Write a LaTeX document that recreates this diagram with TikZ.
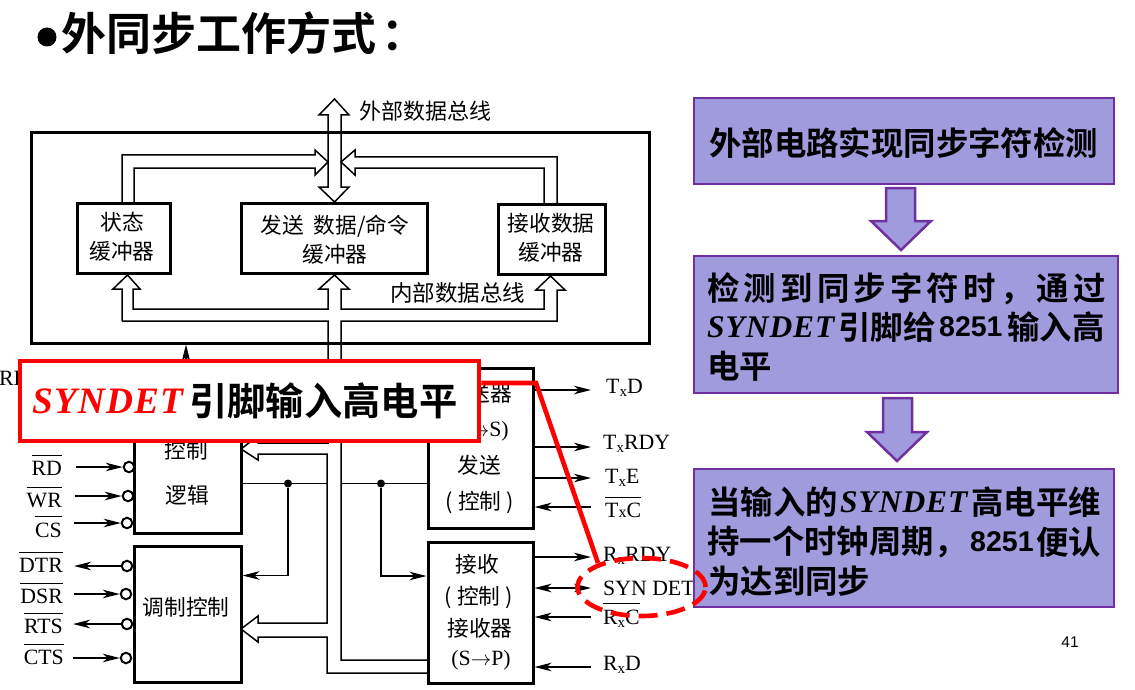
\documentclass[tikz,border=0pt]{standalone}
\usepackage{fontspec}
\usetikzlibrary{arrows.meta,shapes.geometric}
\setmainfont{Liberation Serif}
\newfontfamily\cjk[BoldFont={Noto Sans CJK SC Bold}]{Noto Sans CJK SC}
\newfontfamily\cjkwide[LetterSpace=13,BoldFont={Noto Sans CJK SC Bold}]{Noto Sans CJK SC}
\newfontfamily\synfont[LetterSpace=3]{Liberation Serif}
\newfontfamily\sansf{Liberation Sans}
\newcommand\ovl[1]{\leavevmode\vbox{\hrule height 0.9pt \kern 5.5pt \hbox{#1}}}
\newcommand\sbx{\raisebox{-3.5pt}{\fontsize{15}{15}\selectfont x}}
\newcommand\lowx{{\fontsize{16}{16}\selectfont x}}
\definecolor{boxfill}{HTML}{9F9BDD}
\definecolor{boxline}{HTML}{7030A0}
\definecolor{redc}{HTML}{FF0000}
\tikzset{
  pbox/.style={draw=black,line width=3pt,fill=none,inner sep=0pt},
  bus/.style={draw=black,line width=1.5pt,line join=miter},
  sig/.style={draw=black,line width=1.5pt,-{Stealth[length=17pt,width=8.5pt,inset=5pt]}},
  dsig/.style={draw=black,line width=1.5pt,{Stealth[length=17pt,width=8.5pt,inset=5pt]}-{Stealth[length=17pt,width=8.5pt,inset=5pt]}},
  wire/.style={draw=black,line width=1.4pt},
  pin/.style={circle,draw=black,line width=2pt,fill=white,inner sep=0pt,minimum size=10.5pt},
  dot/.style={circle,fill=black,inner sep=0pt,minimum size=8pt},
  zh/.style={inner sep=0pt,font=\cjk\fontsize{21.7}{29}\selectfont,align=center},
  lt/.style={inner sep=0pt,font=\fontsize{21.8}{24}\selectfont},
  flow/.style={draw=boxline,line width=2.2pt,fill=boxfill,inner sep=0pt},
  fz/.style={inner sep=0pt,anchor=west,font=\cjk\bfseries\fontsize{32.4}{36}\selectfont},
  fsyn/.style={inner sep=0pt,anchor=west,font=\synfont\bfseries\itshape\fontsize{31.5}{36}\selectfont},
  fnum/.style={inner sep=0pt,anchor=west,font=\sansf\bfseries\fontsize{28.5}{36}\selectfont},
  flowarrow/.style={draw=boxline,line width=2.5pt,fill=boxfill,line join=miter},
}
\begin{document}
\begin{tikzpicture}[x=1pt,y=-1pt]
\useasboundingbox (0,0) rectangle (1135,690);
\fill[white] (0,0) rectangle (1135,690);

% title
\node[circle,fill=black,inner sep=0pt,minimum size=19pt] (bullet) at (47,37) {};
\node[inner sep=0pt,anchor=west,font=\cjk\bfseries\fontsize{45}{50}\selectfont] (title) at (61,33) {外同步工作方式\kern5pt：};

% outer box
\node[pbox,minimum width=618pt,minimum height=210pt] (outer) at (340,238) {};
\node[pbox,minimum width=93pt,minimum height=70pt] (status) at (123.5,238) {};
\node[pbox,minimum width=186pt,minimum height=70pt] (txbuf) at (334,238) {};
\node[pbox,minimum width=107pt,minimum height=70pt] (rxbuf) at (551.5,239) {};
\node[zh] (l1) at (122,236.5) {状态\\缓冲器};
\node[zh] (l2) at (335,240) {发送\ \ 数据/命令\\缓冲器};
\node[zh] (l3) at (551,238) {接收数据\\缓冲器};

% buses
\draw[bus] (122,203)--(122,155)--(315,155)--(315,150)--(328,162)--(315,175)--(315,168)--(134,168)--(134,203);
\draw[bus] (557,204)--(557,157)--(355,157)--(355,150)--(341,162)--(355,175)--(355,168)--(544,168)--(544,204);
\draw[bus] (328,187)--(319,187)--(334.5,202)--(349,187)--(341,187)--(341,115)--(349,115)--(334.5,99)--(319,115)--(328,115)--cycle;
\draw[bus] (122,321)--(122,289)--(113,289)--(127.5,275)--(140,289)--(133,289)--(133,309)--(328,309)--(328,289)--(319,289)--(334.5,275)--(349,289)--(341,289)--(341,309)--(544,309)--(544,290)--(536,290)--(550.5,276)--(565,290)--(557,290)--(557,321)--(341,321)--(341,660)--(427,660);
\draw[bus] (122,321)--(328,321)--(328,443)--(258,443)--(258,436)--(241,449)--(258,460)--(258,454)--(327,454)--(327,623)--(258,623)--(258,616)--(241,629)--(258,642)--(258,637)--(327,637)--(327,673)--(427,673);
\node[zh,anchor=west,font=\cjk\fontsize{22}{29}\selectfont] (extl) at (359,111) {外部数据总线};
\node[zh,anchor=west,font=\cjk\fontsize{22.5}{29}\selectfont] (intl) at (390,293) {内部数据总线};

% lower blocks
\node[pbox,minimum width=107pt,minimum height=165pt] (logic) at (187.5,450.5) {};
\node[pbox,minimum width=107pt,minimum height=136pt] (modem) at (187.5,614) {};
\node[pbox,minimum width=105pt,minimum height=160pt] (tx) at (480.5,448) {};
\node[pbox,minimum width=105pt,minimum height=141pt] (rx) at (480.5,612.5) {};

\node[zh] (t1) at (186,450) {控制};
\node[zh] (t2) at (187,495) {逻辑};
\node[zh] (t3) at (186,607) {调制控制};
\node[zh,anchor=east] (t4) at (512,393) {送器};
\node[lt] (t5) at (479,431) {(P$\rightarrow$S)};
\node[zh] (t6) at (479,465) {发送};
\node[zh] (t7) at (480,502) {(\kern5pt 控制\kern5pt )};
\node[zh] (t8) at (477,564) {接收};
\node[zh] (t9) at (479,597) {(\kern5pt 控制\kern5pt )};
\node[zh] (t10) at (480,628) {接收器};
\node[lt] (t11) at (481,660) {(S$\rightarrow$P)};

\draw[sig] (logic.north -| 186,368) -- (outer.south -| 186,343);

% junctions
\draw[wire] (241,483.5) -- (327,483.5);
\draw[wire] (341,483.5) -- (427,483.5);
\node[dot] (j1) at (288,483.5) {};
\node[dot] (j2) at (381,483.5) {};
\draw[sig] (j1) |- (modem.east |- 0,575.5);
\draw[sig] (j2) |- (rx.west |- 0,576);

% left pins
\foreach \nm/\yy/\xc/\xo in {rd/467/129/76, wr/496/128/75, cs/523/127/74, dsr/594/126/74, cts/658/126/73}{
  \node[pin] (p\nm) at (\xc,\yy) {};
  \coordinate (c\nm) at (\xo,\yy);
  \draw[sig] (c\nm) -- (p\nm);
}
\foreach \nm/\yy/\xc/\xo in {dtr/566/127/74, rts/624/127/73}{
  \node[pin] (p\nm) at (\xc,\yy) {};
  \coordinate (c\nm) at (\xo,\yy);
  \draw[sig] (p\nm) -- (c\nm);
}
\node[lt,anchor=east] (nrd) at (62,465) {\ovl{RD}};
\node[lt,anchor=east] (nwr) at (62,497.5) {\ovl{WR}};
\node[lt,anchor=east] (ncs) at (62,527) {\ovl{CS}};
\node[lt,anchor=east] (ndtr) at (63,562) {\ovl{DTR}};
\node[lt,anchor=east] (ndsr) at (63,593.5) {\ovl{DSR}};
\node[lt,anchor=east] (nrts) at (63,623.5) {\ovl{RTS}};
\node[lt,anchor=east] (ncts) at (64,654.5) {\ovl{CTS}};
\node[lt,anchor=west] (nre) at (-1,378) {RE};

% right pins
\coordinate (ptxd) at (591,390);
\coordinate (ptxr) at (591,447);
\coordinate (ptxe) at (591,478);
\coordinate (ptxc) at (591,507);
\coordinate (prxr) at (591,557);
\coordinate (psyn) at (591,588);
\coordinate (prxc) at (591,617);
\coordinate (prxd) at (591,667);
\draw[sig] (tx.east |- ptxd) -- (ptxd);
\draw[sig] (tx.east |- ptxr) -- (ptxr);
\draw[sig] (tx.east |- ptxe) -- (ptxe);
\draw[sig] (ptxc) -- (tx.east |- ptxc);
\draw[sig] (rx.east |- prxr) -- (prxr);
\draw[dsig] (rx.east |- psyn) -- (psyn);
\draw[sig] (prxc) -- (rx.east |- prxc);
\draw[sig] (prxd) -- (rx.east |- prxd);
\node[lt,anchor=west] (ntxd) at (606,388) {T\sbx D};
\node[lt,anchor=west] (ntxr) at (603,444) {T\sbx RDY};
\node[lt,anchor=west] (ntxe) at (605,478) {T\sbx E};
\node[lt,anchor=west] (ntxc) at (605,507.5) {\ovl{T\lowx C}};
\node[lt,anchor=west] (nrxr) at (603,556) {R\sbx RDY};
\node[lt,anchor=west] (nsyn) at (603,588) {SYN DET};
\node[lt,anchor=west] (nrxc) at (603,615.5) {\ovl{R\sbx C}};
\node[lt,anchor=west] (nrxd) at (603,665) {R\sbx D};

% right column
\node[flow,minimum width=420pt,minimum height=86pt] (f1) at (904,141) {};
\node[flow,minimum width=424pt,minimum height=137pt] (f2) at (906,324.5) {};
\node[flow,minimum width=420pt,minimum height=138pt] (f3) at (904,538) {};
\node[fz] (f1t) at (709,143) {外部电路实现同步字符检测};
\node[inner sep=0pt,anchor=west,font=\cjkwide\bfseries\fontsize{32.4}{36}\selectfont] (f2a) at (707,289) {检测到同步字符时，通过};
\node[fsyn] (f2b) at (707,327) {SYNDET};
\node[fz] (f2c) at (838,327) {引脚给};
\node[fnum] (f2d) at (939,327) {8251};
\node[fz] (f2e) at (1007,327) {输入高};
\node[fz] (f2f) at (707,366) {电平};
\node[fz] (f3a) at (708,502) {当输入的};
\node[fsyn] (f3b) at (840,502) {SYNDET};
\node[fz] (f3c) at (971,502) {高电平维};
\node[fz] (f3d) at (707,542) {持一个时钟周期，};
\node[fnum] (f3e) at (970,542) {8251};
\node[fz] (f3f) at (1036,542) {便认};
\node[fz] (f3g) at (708,581) {为达到同步};

\draw[flowarrow] (886,188)--(915,188)--(915,221)--(931,221)--(901,250)--(871,221)--(886,221)--cycle;
\draw[flowarrow] (883,398)--(912,398)--(912,432)--(927,432)--(897,461)--(867,432)--(883,432)--cycle;

\node[inner sep=0pt,font=\sansf\fontsize{15.5}{18}\selectfont] (pageno) at (1070,642) {41};

% red callout
\node[draw=redc,line width=4.6pt,fill=white,minimum width=459pt,minimum height=80pt,inner sep=0pt] (callout) at (249.5,401) {};
\node[inner sep=0pt,anchor=west,text=redc,font=\synfont\bfseries\itshape\fontsize{37.3}{40}\selectfont] (calla) at (32,401) {SYNDET};
\node[inner sep=0pt,anchor=west,font=\cjk\bfseries\fontsize{38.3}{42}\selectfont] (callb) at (189,401) {引脚输入高电平};
\node[ellipse,draw=redc,line width=4.6pt,dash pattern=on 19pt off 9pt,minimum width=128pt,minimum height=58pt,inner sep=0pt] (syne) at (641.5,587) {};
\coordinate (bend) at (536,383);
\coordinate (elltop) at (598,563);
\draw[draw=redc,line width=4.6pt,line join=miter] (callout.east |- bend) -- (bend) -- (elltop);
\end{tikzpicture}
\end{document}
